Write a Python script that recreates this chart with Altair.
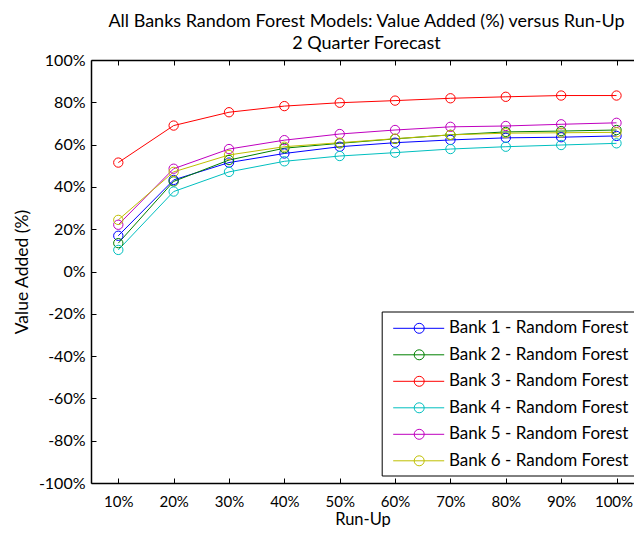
import altair as alt
import pandas as pd

run_up = [0.1, 0.2, 0.3, 0.4, 0.5, 0.6, 0.7, 0.8, 0.9, 1.0]
y_ticks = [-1.0, -0.8, -0.6, -0.4, -0.2, 0.0, 0.2, 0.4, 0.6, 0.8, 1.0]

series = [
    "Bank 1 - Random Forest",
    "Bank 2 - Random Forest",
    "Bank 3 - Random Forest",
    "Bank 4 - Random Forest",
    "Bank 5 - Random Forest",
    "Bank 6 - Random Forest",
]
bank1 = [16.9, 43.3, 51.5, 55.8, 59.0, 60.9, 62.2, 63.2, 63.5, 64.1]
bank2 = [13.4, 42.6, 52.7, 58.3, 60.6, 62.7, 64.6, 66.0, 66.4, 66.9]
bank3 = [51.5, 69.0, 75.3, 78.2, 79.8, 80.8, 81.9, 82.6, 83.2, 83.2]
bank4 = [10.2, 37.8, 47.1, 52.1, 54.6, 56.2, 57.9, 59.0, 59.8, 60.6]
bank5 = [22.1, 48.6, 57.9, 62.1, 65.0, 66.9, 68.4, 68.8, 69.6, 70.3]
bank6 = [24.4, 47.1, 55.1, 59.0, 60.9, 62.8, 64.6, 65.4, 65.6, 65.8]
colors = ["#0000FF", "#008000", "#FF0000", "#00BFBF", "#BF00BF", "#BFBF00"]

rows = []
for name, vals in zip(series, [bank1, bank2, bank3, bank4, bank5, bank6]):
    for xv, yv in zip(run_up, vals):
        rows.append({"run_up": xv, "value": yv / 100.0, "series": name})
df = pd.DataFrame(rows)

FONT = "Lato"
W, H = 543, 423
xscale = alt.Scale(domain=[0.0507, 1.0316], nice=False, zero=False)
yscale = alt.Scale(domain=[-1, 1], nice=False, zero=False)
pct = "round(datum.value*100) + '%'"

color = alt.Color(
    "series:N",
    scale=alt.Scale(domain=series, range=colors),
    legend=alt.Legend(
        title=None,
        orient="none",
        legendX=290.7,
        legendY=251.5,
        symbolType="M-0.53,0H4.57M2.57,0A0.5,0.5,0,1,1,1.57,0A0.5,0.5,0,1,1,2.57,0",
        symbolSize=400,
        symbolStrokeWidth=1,
        symbolFillColor="transparent",
        labelFont=FONT,
        labelFontSize=17,
        labelColor="#000000",
        labelOffset=40,
        labelExpr="datum.label + '          '",
        rowPadding=7.5,
        padding=6.3,
        strokeColor="#000000",
        fillColor="#FFFFFF",
        labelLimit=500,
    ),
)

base = alt.Chart(df)

lines = base.mark_line(strokeWidth=1).encode(
    x=alt.X("run_up:Q", scale=xscale,
            axis=alt.Axis(orient="bottom", values=run_up, labelExpr=pct, ticks=False,
                          labelPadding=11, labelFont=FONT, labelFontSize=15,
                          labelOffset={"condition": {"test": "datum.value > 0.95", "value": -3},
                                       "value": 0},
                          labelColor="#000000", domainColor="#000000", domainWidth=1.5,
                          grid=False, title="Run-Up", titleFont=FONT, titleFontSize=16.5,
                          titleFontWeight="normal", titleColor="#000000",
                          titleY=41, titleBaseline="alphabetic")),
    y=alt.Y("value:Q", scale=yscale,
            axis=alt.Axis(orient="left", values=y_ticks, labelExpr=pct, ticks=False,
                          labelPadding=6, labelFont=FONT, labelFontSize=16,
                          labelColor="#000000", domainColor="#000000", domainWidth=1.5,
                          grid=False, title="Value Added (%)", titleFont=FONT,
                          titleFontSize=17.5, titleFontWeight="normal",
                          titleColor="#000000", titlePadding=7)),
    color=color,
)

points = base.mark_point(shape="circle", filled=False, size=87, strokeWidth=1, opacity=1).encode(
    x=alt.X("run_up:Q", scale=xscale, axis=None),
    y=alt.Y("value:Q", scale=yscale, axis=None),
    color=alt.Color("series:N", scale=alt.Scale(domain=series, range=colors), legend=None),
)

ticks_in = base.mark_point(opacity=0).encode(
    x=alt.X("run_up:Q", scale=xscale,
            axis=alt.Axis(orient="top", offset=-H, values=run_up, labels=False, ticks=True,
                          tickSize=5, tickColor="#000000", tickWidth=1, domain=False,
                          grid=False, title=None)),
    y=alt.Y("value:Q", scale=yscale,
            axis=alt.Axis(orient="right", offset=-W, values=y_ticks, labels=False, ticks=True,
                          tickSize=5, tickColor="#000000", tickWidth=1, domain=False,
                          grid=False, title=None)),
)

top_axis = base.mark_point(opacity=0).encode(
    x=alt.X("run_up:Q", scale=xscale,
            axis=alt.Axis(orient="bottom", offset=-H, values=run_up, labels=False, ticks=True,
                          tickSize=5, tickColor="#000000", tickWidth=1, domain=True,
                          domainColor="#000000", domainWidth=1.5, grid=False, title=None)),
    y=alt.Y("value:Q", scale=yscale, axis=None),
)

chart = (
    alt.layer(lines, points, ticks_in, top_axis)
    .resolve_axis(x="independent", y="independent")
    .properties(
        width=W,
        height=H,
        autosize=alt.AutoSizeParams(type="none"),
        padding={"left": 83, "top": 52, "right": 0, "bottom": 44},
        title=alt.Title(
            ["All Banks Random Forest Models: Value Added (%) versus Run-Up", "2 Quarter Forecast"],
            font=FONT, fontSize=18, fontWeight="normal", color="#000000",
            anchor="middle", offset=-1, dx=4, lineHeight=22.5,
        ),
    )
    .configure_view(stroke=None)
)

chart.save("out.html", embed_options={"renderer": "svg", "actions": False})
